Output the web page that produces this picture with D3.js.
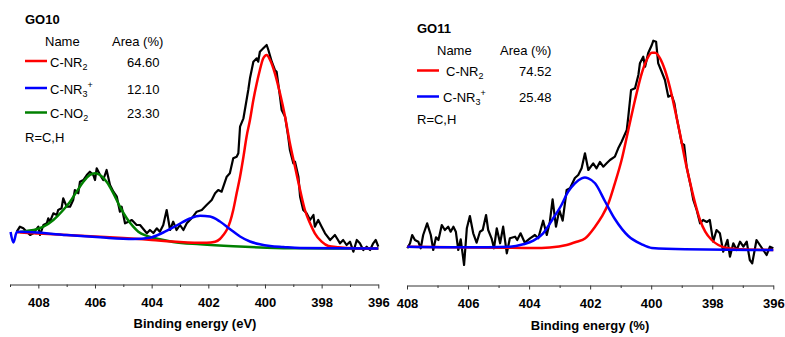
<!DOCTYPE html>
<html><head><meta charset="utf-8">
<script src="https://cdn.jsdelivr.net/npm/d3@7"></script>
<style>
body{margin:0;background:#fff}
text{font-family:"Liberation Sans",Arial,Helvetica,sans-serif}
</style>
</head><body>
<svg id="chart" width="785" height="337"></svg>
<script>
// ---------- GO10 (binding energy eV, intensity a.u.) ----------
const go10Raw = [[408.76,16.3],[408.65,21.3],[408.53,19.7],[408.41,16.3],[408.29,13],[408.18,14.7],[408.0,21.3],[407.94,13],[407.82,23],[407.70,24.7],[407.65,29.7],[407.59,26.3],[407.47,34.7],[407.35,33],[407.30,38],[407.18,39.7],[407.12,49.7],[407.0,41.3],[406.88,41.3],[406.77,48],[406.71,58],[406.59,54.7],[406.53,66.3],[406.41,68],[406.29,73],[406.18,76.3],[406.06,73],[406.0,68],[405.94,79.7],[405.82,73],[405.71,68],[405.59,78],[405.47,63],[405.35,56.3],[405.23,51.3],[405.12,36.3],[405.06,41.3],[404.94,24.7],[404.82,26.3],[404.70,28],[404.53,23],[404.41,23],[404.17,14.7],[404.06,18],[403.94,15],[403.82,19.7],[403.71,16.3],[403.59,23],[403.47,38],[403.35,18],[403.24,26.3],[403.12,18],[403.0,23],[402.88,18],[402.76,24.7],[402.59,29.7],[402.41,36.3],[402.23,38],[402.06,43],[401.88,48],[401.76,54.7],[401.65,58],[401.53,56.3],[401.35,71.3],[401.24,74.7],[401.12,89.7],[401.0,91.3],[400.94,94.7],[400.88,121.3],[400.76,129.7],[400.65,148],[400.59,158],[400.53,169.7],[400.47,178],[400.41,186.3],[400.29,189.7],[400.24,186.3],[400.18,196.3],[400.06,199.7],[399.94,203],[399.88,198],[399.76,186.3],[399.65,178],[399.59,176.3],[399.47,151.3],[399.41,138],[399.29,131.3],[399.18,111.3],[399.12,98],[399.0,84.7],[398.94,86.3],[398.82,71.3],[398.76,51.3],[398.65,38],[398.53,34.7],[398.41,28],[398.29,33],[398.24,21.3],[398.12,28],[398.0,21.3],[397.88,14.7],[397.70,8],[397.53,13],[397.35,4.7],[397.24,8],[397.12,3],[397.0,6.3],[396.88,-3.7],[396.76,8],[396.65,4.7],[396.53,-2],[396.41,1.3],[396.29,-2],[396.18,4.7],[396.09,8],[396.0,1.3]];
const go10Red = [[408.76,16],[408.5,15.3],[408,14.5],[407,13],[406,11.5],[405,10],[404,8],[403,6],[402.41,5.3],[402.06,5.3],[401.76,6.3],[401.59,9],[401.47,13],[401.35,18],[401.23,26.3],[401.12,38],[401.0,54.7],[400.88,71.3],[400.76,91.3],[400.65,111.3],[400.53,128],[400.41,148],[400.29,164.7],[400.18,178],[400.06,189.7],[399.94,193],[399.82,188],[399.65,174.7],[399.47,154.7],[399.29,131.3],[399.12,104.7],[398.94,81.3],[398.76,58],[398.59,38],[398.41,24.7],[398.24,14.7],[398.0,6.3],[397.76,2],[397.41,0.7],[396.82,-0.3],[396.0,-0.5]];
const go10Blue = [[408.98,16],[408.88,5.5],[408.76,16],[408.65,16.3],[407.0,13],[405.82,10.7],[404.65,9],[404.06,10.3],[403.59,15.5],[403.12,22.5],[402.65,29.5],[402.29,32.3],[401.94,31.5],[401.59,26.5],[401.24,19],[400.88,11.5],[400.53,6.5],[400.18,3.7],[399.82,2],[399.35,1],[398.76,0],[396.0,-0.5]];
const go10Green = [[408.65,16],[408.41,17],[408.06,18.7],[407.82,21.3],[407.47,28],[407.12,38],[406.88,46.3],[406.65,56.3],[406.41,66.3],[406.18,73],[406.0,74.7],[405.82,73],[405.59,66.3],[405.35,54.7],[405.12,41.3],[404.88,29.7],[404.65,21.3],[404.47,16.3],[404.17,12],[403.71,8.7],[403.24,6],[402.29,3.7],[401.12,1.7],[399.94,0.3],[398.76,-0.3],[396.0,-0.5]];
const go10Names = ["C-NR2", "C-NR3+", "C-NO2"];
const go10Areas = ["64.60", "12.10", "23.30"];

// ---------- GO11 ----------
const go11Raw = [[407.99,0.7],[407.90,5.7],[407.83,14],[407.74,9],[407.63,7.3],[407.55,0.7],[407.47,14],[407.34,25.7],[407.22,14],[407.14,-1],[407.05,11.7],[406.97,9],[406.86,24],[406.76,19],[406.65,22.3],[406.57,17.3],[406.48,22.3],[406.40,17.3],[406.32,-1],[406.24,9.7],[406.13,-16],[406.04,20.7],[405.94,33],[405.83,15.7],[405.72,6.3],[405.61,17.3],[405.52,19],[405.41,34],[405.34,19],[405.23,10.7],[405.15,0.7],[405.06,20.7],[404.95,5.7],[404.85,22.3],[404.73,-4.3],[404.63,10.7],[404.46,12.3],[404.39,9],[404.28,15.7],[404.14,6.3],[403.97,10.7],[403.81,14],[403.70,10.7],[403.54,28.3],[403.42,14],[403.32,27.3],[403.23,49.7],[403.12,22.3],[403.01,39],[402.90,28.3],[402.77,59],[402.66,60.7],[402.50,71],[402.39,74],[402.28,80.7],[402.17,95.7],[402.06,79],[401.90,85.7],[401.79,80.7],[401.68,87],[401.57,82.3],[401.46,85.7],[401.35,89],[401.19,92.3],[401.08,100.7],[400.97,107.3],[400.80,119],[400.75,132.3],[400.66,159],[400.53,160.7],[400.42,174],[400.37,185.7],[400.26,192.3],[400.20,182.3],[400.10,195.7],[399.98,204],[399.93,208.3],[399.84,207.3],[399.77,185.7],[399.68,179],[399.55,169],[399.44,152.3],[399.33,154],[399.24,145.7],[399.17,132.3],[399.00,105.7],[398.92,104],[398.84,82.3],[398.70,62.3],[398.62,49],[398.51,39],[398.40,25.7],[398.30,29],[398.18,27],[398.08,29],[397.97,7.3],[397.86,19],[397.75,15.7],[397.64,-2.7],[397.50,9],[397.42,-7.7],[397.31,5.7],[397.20,-1],[397.09,7.3],[396.98,2.3],[396.87,7.3],[396.77,-11],[396.69,-14.3],[396.55,9],[396.44,4],[396.33,-1],[396.22,-6],[396.11,2.3],[396.0,0.7]];
const go11Red = [[407.99,2.3],[406.5,1.8],[404.95,1.3],[403.86,0.9],[403.32,1.5],[402.77,4],[402.44,7.3],[402.17,10.5],[401.84,22.3],[401.62,32.3],[401.40,45.7],[401.19,65.7],[400.97,89],[400.75,119],[400.53,149],[400.31,175.7],[400.15,189],[399.98,196.3],[399.87,196.3],[399.71,190.7],[399.55,179],[399.38,160.7],[399.22,139],[399.06,115.7],[398.89,89],[398.72,65.7],[398.56,45.7],[398.40,29],[398.23,17.3],[398.02,9],[397.80,4],[397.48,0.7],[397.04,-0.3],[396.0,-1]];
const go11Blue = [[407.99,2.3],[406.04,1.7],[404.63,2.3],[404.19,4.7],[403.86,8.3],[403.54,15.7],[403.21,30.7],[402.94,44],[402.72,57.3],[402.50,65.7],[402.28,70.7],[402.17,71.5],[402.06,70.7],[401.84,65.7],[401.51,47.5],[401.19,30],[400.75,13],[400.31,4.7],[399.98,1],[398.89,-0.3],[396.0,-1]];
const go11Names = ["C-NR2", "C-NR3+"];
const go11Areas = ["74.52", "25.48"];

// axis ticks
const majorTicks = [408, 406, 404, 402, 400, 398, 396];
const minorTicks10 = [409, 407, 405, 403, 401, 399, 397];
const minorTicks11 = [407, 405, 403, 401, 399, 397];

const svg = d3.select('#chart');
const RED = '#ff0000', BLUE = '#0000ff', GREEN = '#008000';

function drawPanel(cfg) {
  const x = d3.scaleLinear().domain(cfg.xDomain).range(cfg.xRange);
  const y = d3.scaleLinear().domain([0, 200]).range([cfg.yZero, cfg.yZero - 200]);
  const g = svg.append('g');

  // axis
  const ax = g.append('g').attr('transform', `translate(0,${cfg.axisY})`)
    .call(d3.axisBottom(x).tickValues(majorTicks).tickSize(4).tickSizeOuter(0).tickPadding(9).tickFormat(d3.format('d')));
  ax.select('.domain').attr('stroke', '#333');
  ax.selectAll('.tick line').attr('stroke', '#333');
  ax.selectAll('.tick text').attr('font-family', '"Liberation Sans",Arial,sans-serif')
    .attr('font-size', 13).attr('font-weight', 'bold').attr('fill', '#000');
  const mx = g.append('g').attr('transform', `translate(0,${cfg.axisY})`)
    .call(d3.axisBottom(x).tickValues(cfg.minor).tickSize(2.5).tickSizeOuter(0).tickFormat(''));
  mx.select('.domain').remove();
  mx.selectAll('.tick line').attr('stroke', '#333');

  g.append('text').attr('x', cfg.titleX).attr('y', cfg.titleY).attr('text-anchor', 'middle')
    .attr('font-size', 13).attr('font-weight', 'bold').text(cfg.title);

  const raw = d3.line().x(d => x(d[0])).y(d => y(d[1]));
  const fit = d3.line().x(d => x(d[0])).y(d => y(d[1])).curve(d3.curveMonotoneX);

  g.append('path').datum(cfg.raw).attr('d', raw).attr('fill', 'none')
    .attr('stroke', '#000').attr('stroke-width', 2.2).attr('stroke-linejoin', 'round');
  cfg.fits.forEach(f => {
    g.append('path').datum(f.data).attr('d', fit).attr('fill', 'none')
      .attr('stroke', f.color).attr('stroke-width', 2.5);
  });

  // legend
  const L = cfg.legend;
  g.append('text').attr('x', L.x0).attr('y', L.titleY).attr('font-size', 13).attr('font-weight', 'bold').text(cfg.label);
  g.append('text').attr('x', L.nameX).attr('y', L.headY).attr('font-size', 13).text('Name');
  g.append('text').attr('x', L.areaX).attr('y', L.headY).attr('font-size', 13).text('Area (%)');
  cfg.names.forEach((n, i) => {
    const ly = L.rowY[i];
    g.append('line').attr('x1', L.x0).attr('x2', L.x0 + 22).attr('y1', ly - 5.5).attr('y2', ly - 5.5)
      .attr('stroke', cfg.colors[i]).attr('stroke-width', 2.5);
    const t = g.append('text').attr('x', L.textX[i]).attr('y', ly).attr('font-size', 13);
    const m = n.match(/^(C-N[RO])(\d)(\+?)$/);
    t.append('tspan').text(m[1]);
    t.append('tspan').attr('font-size', 9).attr('dy', 3).text(m[2]);
    if (m[3]) t.append('tspan').attr('font-size', 9).attr('dy', -9).text(m[3]);
    g.append('text').attr('x', L.valX).attr('y', ly).attr('text-anchor', 'end').attr('font-size', 13).text(cfg.areas[i]);
  });
  g.append('text').attr('x', L.x0).attr('y', L.rY).attr('font-size', 13).text('R=C,H');
}

drawPanel({
  xDomain: [409, 396], xRange: [10, 378.3], yZero: 248, axisY: 284.5, minor: minorTicks10,
  title: 'Binding energy (eV)', titleX: 195, titleY: 328,
  raw: go10Raw,
  fits: [{data: go10Green, color: GREEN}, {data: go10Red, color: RED}, {data: go10Blue, color: BLUE}],
  label: 'GO10', names: go10Names, areas: go10Areas, colors: [RED, BLUE, GREEN],
  legend: {x0: 25, titleY: 24.3, nameX: 45, headY: 45.5, areaX: 112, rowY: [66.5, 93.5, 118], textX: [50, 50, 50], valX: 159.5, rY: 141.5}
});

drawPanel({
  xDomain: [408, 396], xRange: [407, 773.3], yZero: 249, axisY: 285.5, minor: minorTicks11,
  title: 'Binding energy (%)', titleX: 590, titleY: 330,
  raw: go11Raw,
  fits: [{data: go11Red, color: RED}, {data: go11Blue, color: BLUE}],
  label: 'GO11', names: go11Names, areas: go11Areas, colors: [RED, BLUE],
  legend: {x0: 417, titleY: 33.3, nameX: 437, headY: 54.5, areaX: 500, rowY: [76, 102], textX: [446, 443], valX: 551.5, rY: 124}
});
</script>
</body></html>
